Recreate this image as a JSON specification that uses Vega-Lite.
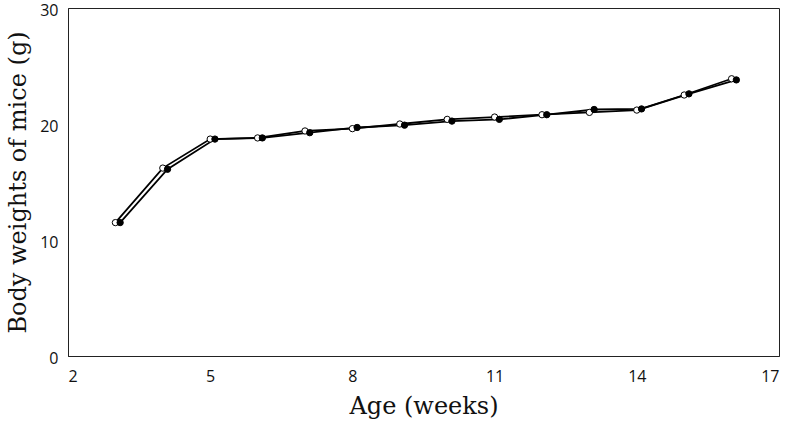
{
  "$schema": "https://vega.github.io/schema/vega-lite/v6.json",
  "width": 711,
  "height": 348,
  "autosize": {"type": "none"},
  "padding": {"left": 68, "top": 8, "right": 13, "bottom": 73},
  "background": "white",
  "config": {
    "view": {"stroke": "#222", "strokeWidth": 1},
    "axis": {
      "grid": false,
      "ticks": false,
      "domainColor": "#222",
      "labelFont": "Open Sans",
      "labelFontSize": 16,
      "labelColor": "#111",
      "titleFont": "DejaVu Serif",
      "titleFontSize": 24,
      "titleFontWeight": "normal",
      "titleColor": "#111"
    }
  },
  "data": {
    "values": [
      {"age": 3, "weight": 11.5, "group": "open"},
      {"age": 4, "weight": 16.2, "group": "open"},
      {"age": 5, "weight": 18.7, "group": "open"},
      {"age": 6, "weight": 18.8, "group": "open"},
      {"age": 7, "weight": 19.4, "group": "open"},
      {"age": 8, "weight": 19.6, "group": "open"},
      {"age": 9, "weight": 20.0, "group": "open"},
      {"age": 10, "weight": 20.4, "group": "open"},
      {"age": 11, "weight": 20.6, "group": "open"},
      {"age": 12, "weight": 20.8, "group": "open"},
      {"age": 13, "weight": 21.0, "group": "open"},
      {"age": 14, "weight": 21.2, "group": "open"},
      {"age": 15, "weight": 22.5, "group": "open"},
      {"age": 16, "weight": 23.9, "group": "open"},
      {"age": 3.1, "weight": 11.5, "group": "filled"},
      {"age": 4.1, "weight": 16.1, "group": "filled"},
      {"age": 5.1, "weight": 18.7, "group": "filled"},
      {"age": 6.1, "weight": 18.8, "group": "filled"},
      {"age": 7.1, "weight": 19.25, "group": "filled"},
      {"age": 8.1, "weight": 19.7, "group": "filled"},
      {"age": 9.1, "weight": 19.9, "group": "filled"},
      {"age": 10.1, "weight": 20.25, "group": "filled"},
      {"age": 11.1, "weight": 20.4, "group": "filled"},
      {"age": 12.1, "weight": 20.8, "group": "filled"},
      {"age": 13.1, "weight": 21.25, "group": "filled"},
      {"age": 14.1, "weight": 21.3, "group": "filled"},
      {"age": 15.1, "weight": 22.6, "group": "filled"},
      {"age": 16.1, "weight": 23.8, "group": "filled"}
    ]
  },
  "encoding": {
    "x": {
      "field": "age",
      "type": "quantitative",
      "scale": {"domain": [2, 17], "nice": false, "zero": false},
      "axis": {"values": [2, 5, 8, 11, 14, 17], "title": "Age (weeks)", "labelPadding": 12, "titlePadding": 10}
    },
    "y": {
      "field": "weight",
      "type": "quantitative",
      "scale": {"domain": [0, 30], "nice": false},
      "axis": {"values": [0, 10, 20, 30], "title": "Body weights of mice (g)", "labelPadding": 10, "labelOffset": 2, "titlePadding": 9}
    }
  },
  "layer": [
    {
      "mark": {"type": "line", "color": "black", "strokeWidth": 1.8},
      "encoding": {"detail": {"field": "group"}}
    },
    {
      "transform": [{"filter": "datum.group === 'open'"}],
      "mark": {"type": "point", "shape": "circle", "filled": true, "fill": "white", "stroke": "black", "strokeWidth": 1, "size": 40, "opacity": 1}
    },
    {
      "transform": [{"filter": "datum.group === 'filled'"}],
      "mark": {"type": "point", "shape": "circle", "filled": true, "fill": "black", "stroke": "black", "strokeWidth": 1, "size": 40, "opacity": 1}
    }
  ]
}
